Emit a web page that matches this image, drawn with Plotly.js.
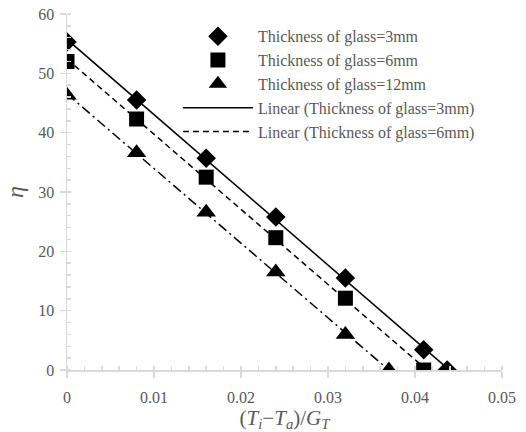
<!DOCTYPE html>
<html>
<head>
<meta charset="utf-8">
<script src="https://cdn.plot.ly/plotly-3.0.1.min.js"></script>
<style>html,body{margin:0;padding:0;background:#fff;}#chart{width:526px;height:432px;}</style>
</head>
<body>
<div id="chart"></div>
<script>
// Data
const x3mm = [0, 0.008, 0.016, 0.024, 0.032, 0.041, 0.0437];
const y3mm = [55.3, 45.5, 35.7, 25.8, 15.5, 3.4, 0];
const x6mm = [0, 0.008, 0.016, 0.024, 0.032, 0.041];
const y6mm = [52.0, 42.3, 32.5, 22.3, 12.1, 0];
const x12mm = [0, 0.008, 0.016, 0.024, 0.032, 0.037];
const y12mm = [46.3, 36.6, 26.6, 16.5, 6.0, 0];
const names = ['Thickness of glass=3mm', 'Thickness of glass=6mm', 'Thickness of glass=12mm'];
const xTicks = [0, 0.01, 0.02, 0.03, 0.04, 0.05];
const xTickText = ['0', '0.01', '0.02', '0.03', '0.04', '0.05'];
const yTicks = [0, 10, 20, 30, 40, 50, 60];

// Linear least-squares trendline over the data range (as Excel does)
function trend(xs, ys) {
  const n = xs.length;
  const mx = xs.reduce((a, b) => a + b, 0) / n;
  const my = ys.reduce((a, b) => a + b, 0) / n;
  let sxy = 0, sxx = 0;
  for (let i = 0; i < n; i++) { sxy += (xs[i] - mx) * (ys[i] - my); sxx += (xs[i] - mx) ** 2; }
  const b = sxy / sxx, a = my - b * mx;
  const x0 = Math.min(...xs), x1 = Math.max(...xs);
  return { x: [x0, x1], y: [a + b * x0, a + b * x1] };
}
const t3 = trend(x3mm, y3mm), t6 = trend(x6mm, y6mm), t12 = trend(x12mm, y12mm);

const gray = '#595959';
const font = '"Liberation Serif", "Times New Roman", serif';

const traces = [
  { x: x3mm, y: y3mm, name: names[0], mode: 'markers', type: 'scatter',
    marker: { symbol: 'diamond', size: 15, color: '#000' } },
  { x: x6mm, y: y6mm, name: names[1], mode: 'markers', type: 'scatter',
    marker: { symbol: 'square', size: 15, color: '#000' } },
  { x: x12mm, y: y12mm, name: names[2], mode: 'markers', type: 'scatter',
    marker: { symbol: 'triangle-up', size: 17, color: '#000' } },
  { x: t3.x, y: t3.y, name: 'Linear (' + names[0] + ')', mode: 'lines', type: 'scatter',
    line: { color: '#000', width: 1.5 } },
  { x: t6.x, y: t6.y, name: 'Linear (' + names[1] + ')', mode: 'lines', type: 'scatter',
    line: { color: '#000', width: 1.5, dash: '6px,4px' } },
  { x: t12.x, y: t12.y, name: 'Linear (' + names[2] + ')', mode: 'lines', type: 'scatter',
    showlegend: false, line: { color: '#000', width: 1.5, dash: '10px,4px,2px,4px' } }
];

const layout = {
  width: 526, height: 432,
  margin: { l: 67, r: 24, t: 14, b: 62 },
  paper_bgcolor: '#fff', plot_bgcolor: '#fff',
  showlegend: true,
  legend: { x: 0.255, y: 0.985, xanchor: 'left', yanchor: 'top',
    bgcolor: 'rgba(0,0,0,0)', font: { family: font, size: 16, color: gray },
    itemwidth: 70, tracegroupgap: 0 },
  xaxis: {
    range: [0, 0.05], tickvals: xTicks, ticktext: xTickText,
    showgrid: false, zeroline: false, showline: true, linecolor: '#d9d9d9', linewidth: 1.5,
    ticks: 'outside', ticklen: 6, tickcolor: '#d9d9d9', tickwidth: 1.5,
    minor: { dtick: 0.002, ticks: 'inside', ticklen: 4, tickcolor: '#d9d9d9', tickwidth: 1.5 },
    tickfont: { family: font, size: 16, color: gray }, ticklabelstandoff: 6,
    title: { text: '(<i>T</i><sub><i>i</i></sub>−<i>T</i><sub><i>a</i></sub>)/<i>G</i><sub><i>T</i></sub>',
      font: { family: font, size: 21, color: gray }, standoff: 2 }
  },
  yaxis: {
    range: [0, 60], tickvals: yTicks,
    showgrid: false, zeroline: false, showline: true, linecolor: '#d9d9d9', linewidth: 1.5,
    ticks: 'outside', ticklen: 6, tickcolor: '#d9d9d9', tickwidth: 1.5,
    minor: { dtick: 2, ticks: 'inside', ticklen: 4, tickcolor: '#d9d9d9', tickwidth: 1.5 },
    tickfont: { family: font, size: 16, color: gray }, ticklabelstandoff: 2,
    title: { text: '<i>η</i>', font: { family: font, size: 24, color: gray }, standoff: 8 }
  }
};

Plotly.newPlot('chart', traces, layout, { displayModeBar: false, staticPlot: true });
</script>
</body>
</html>
